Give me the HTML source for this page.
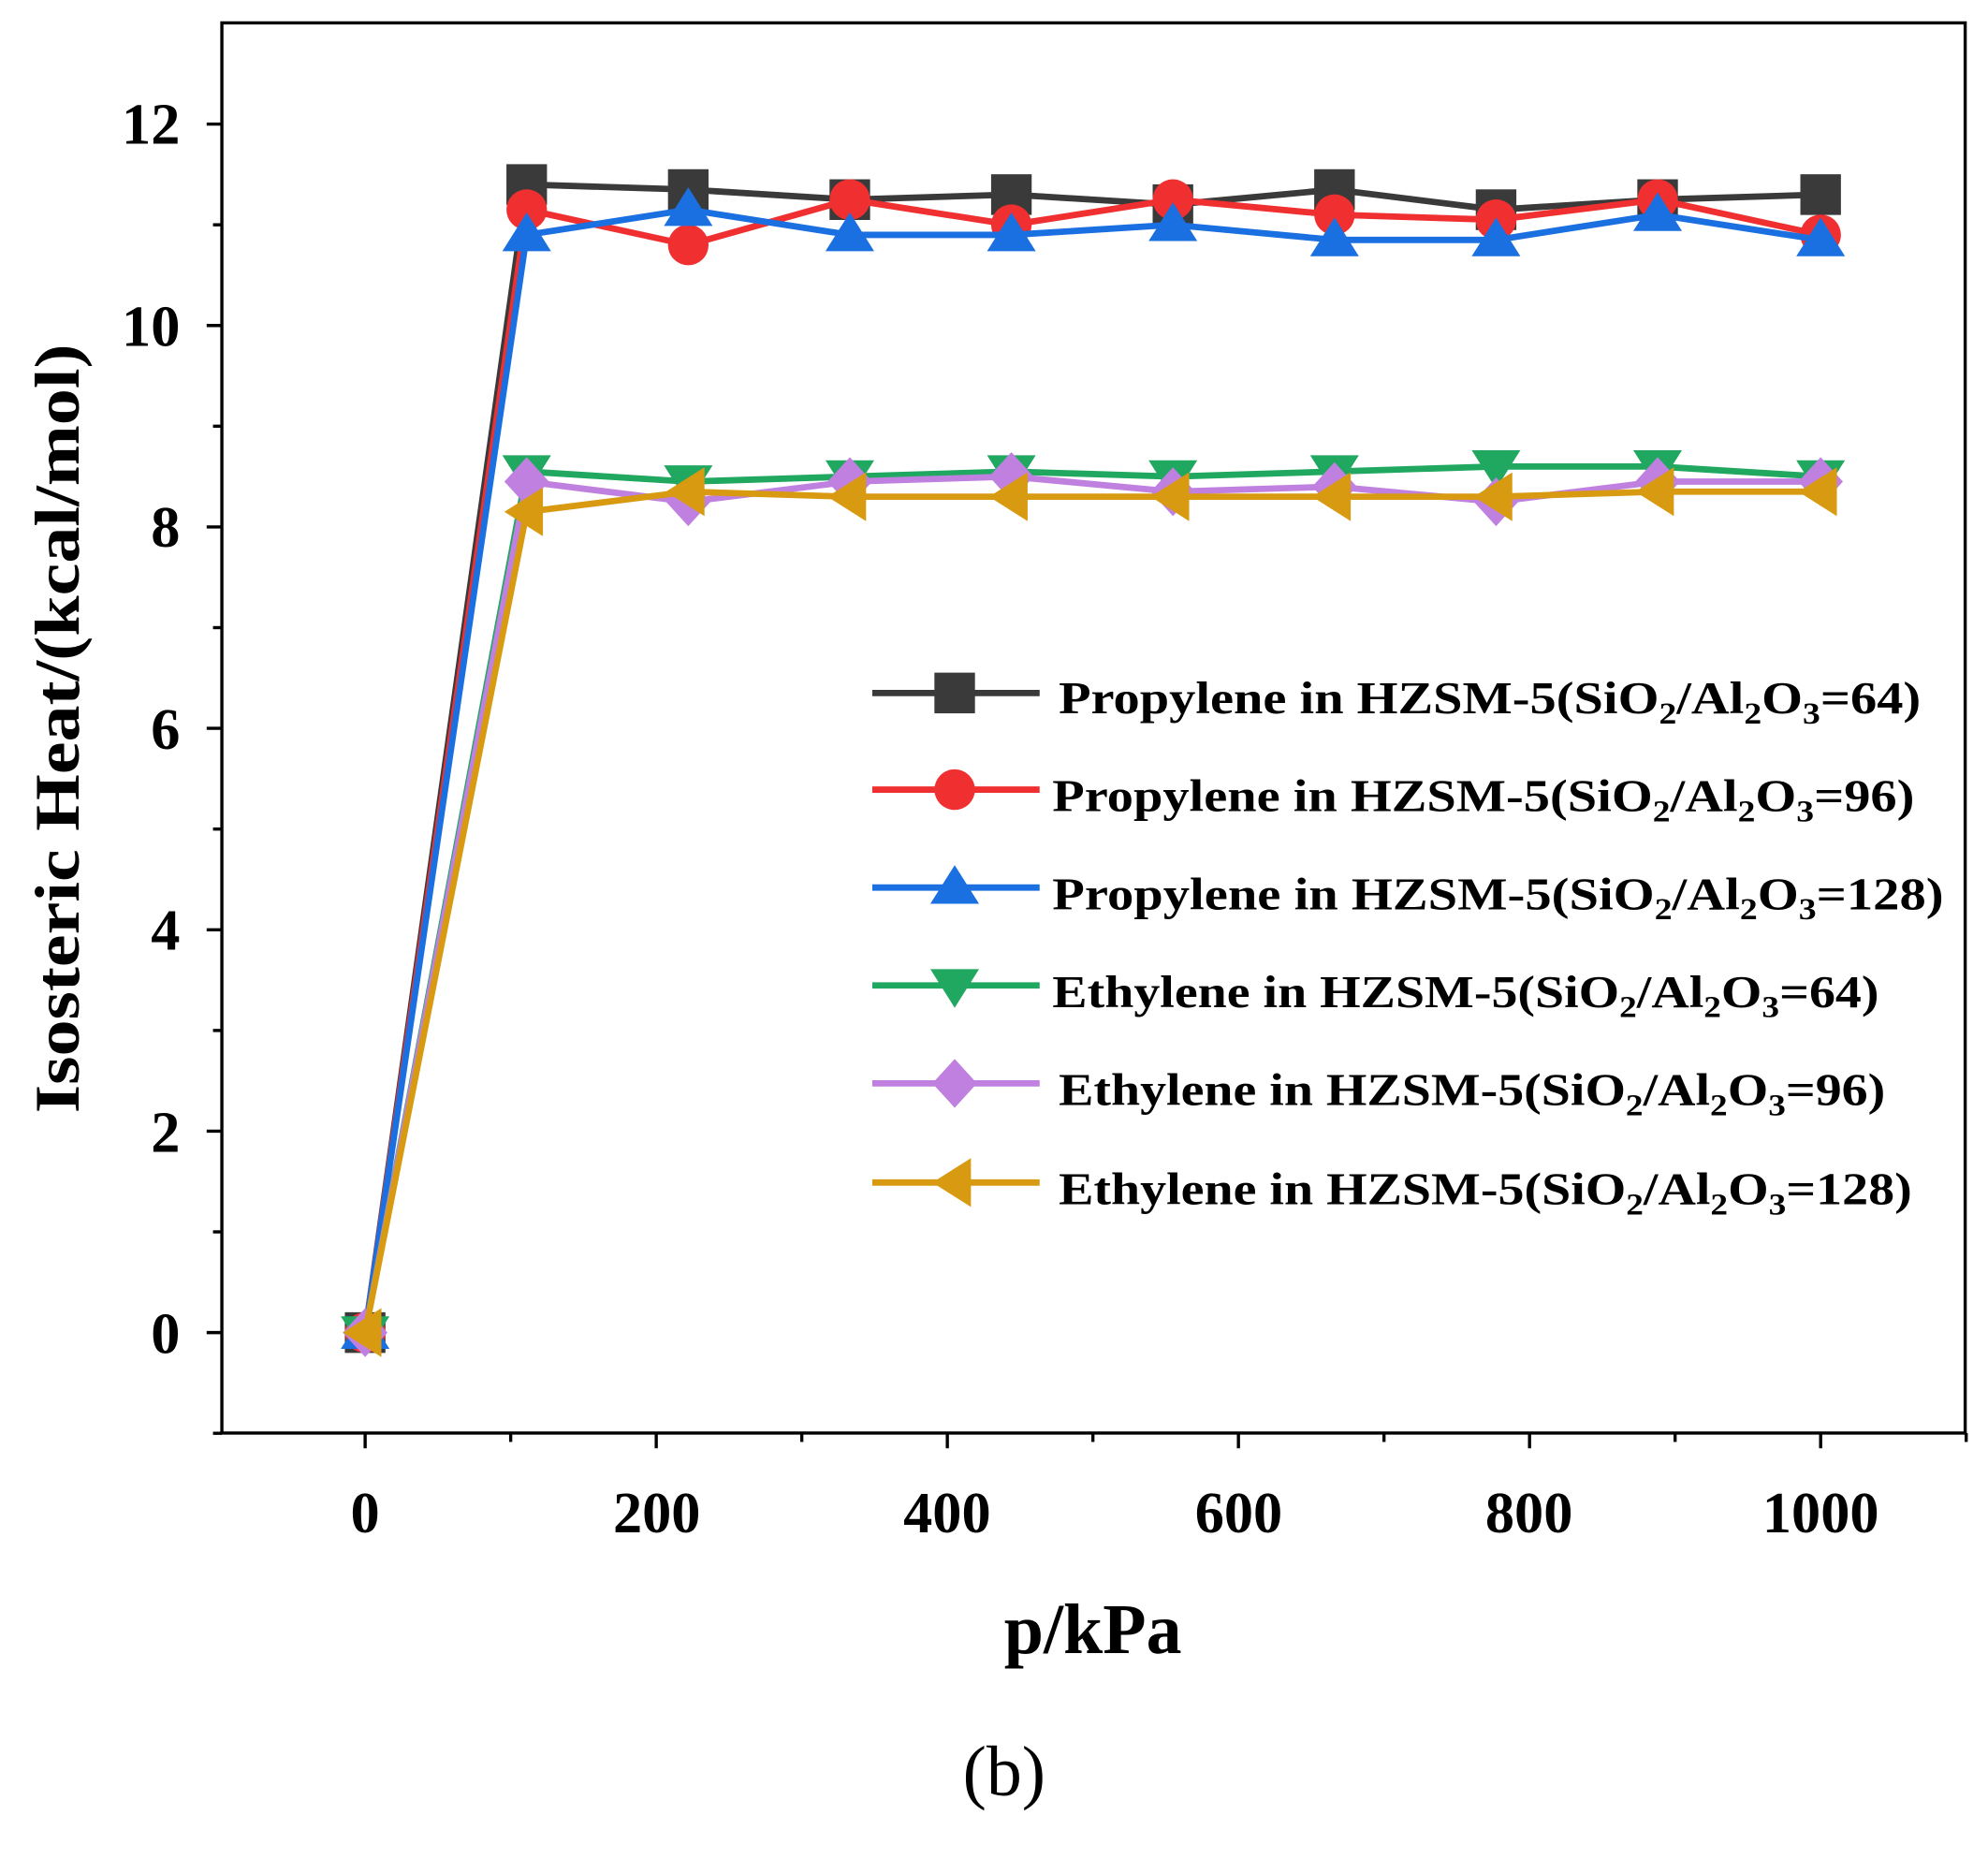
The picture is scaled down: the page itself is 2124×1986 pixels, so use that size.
<!DOCTYPE html>
<html><head><meta charset="utf-8"><style>
html,body{margin:0;padding:0;background:#fff;}
svg{display:block;}
text{font-family:"Liberation Serif",serif;font-weight:bold;fill:#000;}
</style></head><body>
<svg id="s" width="2124" height="1986" viewBox="0 0 1568 1462" preserveAspectRatio="none">
<rect x="175" y="18" width="1375" height="1109" fill="none" stroke="#000" stroke-width="2.5"/>
<g id="ticks" stroke="#000" stroke-width="2.5"></g>
<g font-size="46" text-anchor="end">
<text x="142" y="1064">0</text><text x="142" y="906">2</text><text x="142" y="747">4</text>
<text x="142" y="589">6</text><text x="142" y="430">8</text><text x="142" y="272">10</text><text x="142" y="113">12</text>
</g>
<g font-size="46" text-anchor="middle">
<text x="288" y="1205">0</text><text x="518" y="1205">200</text><text x="747" y="1205">400</text>
<text x="977" y="1205">600</text><text x="1206" y="1205">800</text><text x="1436" y="1205">1000</text>
</g>
<text x="862" y="1300" font-size="56" text-anchor="middle">p/kPa</text>
<text transform="translate(62,573) rotate(-90)" font-size="50" text-anchor="middle" textLength="605" lengthAdjust="spacingAndGlyphs">Isosteric Heat/(kcal/mol)</text>
<text x="792" y="1412" font-size="56" text-anchor="middle" style="font-weight:normal">(b)</text>
<g id="series"></g>
<g id="legend"></g>
<g font-size="36">
<text x="835" y="561" textLength="680" lengthAdjust="spacingAndGlyphs">Propylene in HZSM-5(SiO<tspan font-size="24" dy="8">2</tspan><tspan dy="-8">/Al</tspan><tspan font-size="24" dy="8">2</tspan><tspan dy="-8">O</tspan><tspan font-size="24" dy="8">3</tspan><tspan dy="-8">=64)</tspan></text>
<text x="830" y="638" textLength="680" lengthAdjust="spacingAndGlyphs">Propylene in HZSM-5(SiO<tspan font-size="24" dy="8">2</tspan><tspan dy="-8">/Al</tspan><tspan font-size="24" dy="8">2</tspan><tspan dy="-8">O</tspan><tspan font-size="24" dy="8">3</tspan><tspan dy="-8">=96)</tspan></text>
<text x="830" y="715" textLength="703" lengthAdjust="spacingAndGlyphs">Propylene in HZSM-5(SiO<tspan font-size="24" dy="8">2</tspan><tspan dy="-8">/Al</tspan><tspan font-size="24" dy="8">2</tspan><tspan dy="-8">O</tspan><tspan font-size="24" dy="8">3</tspan><tspan dy="-8">=128)</tspan></text>
<text x="830" y="792" textLength="652" lengthAdjust="spacingAndGlyphs">Ethylene in HZSM-5(SiO<tspan font-size="24" dy="8">2</tspan><tspan dy="-8">/Al</tspan><tspan font-size="24" dy="8">2</tspan><tspan dy="-8">O</tspan><tspan font-size="24" dy="8">3</tspan><tspan dy="-8">=64)</tspan></text>
<text x="835" y="869" textLength="652" lengthAdjust="spacingAndGlyphs">Ethylene in HZSM-5(SiO<tspan font-size="24" dy="8">2</tspan><tspan dy="-8">/Al</tspan><tspan font-size="24" dy="8">2</tspan><tspan dy="-8">O</tspan><tspan font-size="24" dy="8">3</tspan><tspan dy="-8">=96)</tspan></text>
<text x="835" y="947" textLength="673" lengthAdjust="spacingAndGlyphs">Ethylene in HZSM-5(SiO<tspan font-size="24" dy="8">2</tspan><tspan dy="-8">/Al</tspan><tspan font-size="24" dy="8">2</tspan><tspan dy="-8">O</tspan><tspan font-size="24" dy="8">3</tspan><tspan dy="-8">=128)</tspan></text>
</g>
</svg>
<script>
var NS="http://www.w3.org/2000/svg";
function el(p,t,a){var e=document.createElementNS(NS,t);for(var k in a)e.setAttribute(k,a[k]);p.appendChild(e);return e;}
var X=function(v){return 288+v*1.148;},Y=function(v){return 1048-v*79.2;};
var tk=document.getElementById('ticks');
for(var v=-1;v<=12.9;v+=1){var y=Y(v);el(tk,'line',{x1:175,x2:(Math.round(v)%2==0?163:168),y1:y,y2:y});}
for(var v=-100;v<=1100;v+=100){var x=X(v);if(x<174||x>1551)continue;el(tk,'line',{x1:x,x2:x,y1:1127,y2:(v%200==0?1139:1134)});}
var xs=[0,111,222,333,444,555,666,777,888,1000];
var S=[
['#3a3a3a','sq',[0,11.4,11.35,11.25,11.3,11.2,11.35,11.15,11.25,11.3]],
['#f03030','ci',[0,11.15,10.8,11.25,11.0,11.25,11.1,11.05,11.25,10.9]],
['#1a70e0','tu',[0,10.9,11.15,10.9,10.9,11.0,10.85,10.85,11.1,10.85]],
['#20a860','td',[0,8.55,8.45,8.5,8.55,8.5,8.55,8.6,8.6,8.5]],
['#c080e0','di',[0,8.45,8.25,8.45,8.5,8.35,8.4,8.25,8.45,8.45]],
['#d89a10','tl',[0,8.15,8.35,8.3,8.3,8.3,8.3,8.3,8.35,8.35]]];
function mk(g,t,x,y,c){var r=16;
 if(t=='sq')el(g,'rect',{x:x-r,y:y-r,width:2*r,height:2*r,fill:c});
 else if(t=='ci')el(g,'circle',{cx:x,cy:y,r:r,fill:c});
 else{var p;
  if(t=='tu')p=[[x,y-r*1.1],[x+r*1.2,y+r*0.8],[x-r*1.2,y+r*0.8]];
  if(t=='td')p=[[x,y+r*1.1],[x+r*1.2,y-r*0.8],[x-r*1.2,y-r*0.8]];
  if(t=='di')p=[[x,y-r*1.2],[x+r*1.1,y],[x,y+r*1.2],[x-r*1.1,y]];
  if(t=='tl')p=[[x-r*1.1,y],[x+r*0.8,y-r*1.2],[x+r*0.8,y+r*1.2]];
  el(g,'polygon',{points:p.map(function(q){return q.join(',')}).join(' '),fill:c});}}
var g=document.getElementById('series'),lg=document.getElementById('legend');
var ly=[545,621,698,775,852,930];
S.forEach(function(s,i){
 el(g,'polyline',{points:xs.map(function(x,j){return X(x)+','+Y(s[2][j])}).join(' '),fill:'none',stroke:s[0],'stroke-width':5});
 xs.forEach(function(x,j){mk(g,s[1],X(x),Y(s[2][j]),s[0]);});
 el(lg,'line',{x1:688,x2:820,y1:ly[i],y2:ly[i],stroke:s[0],'stroke-width':5});
 mk(lg,s[1],753,ly[i],s[0]);
});
</script>
</body></html>
